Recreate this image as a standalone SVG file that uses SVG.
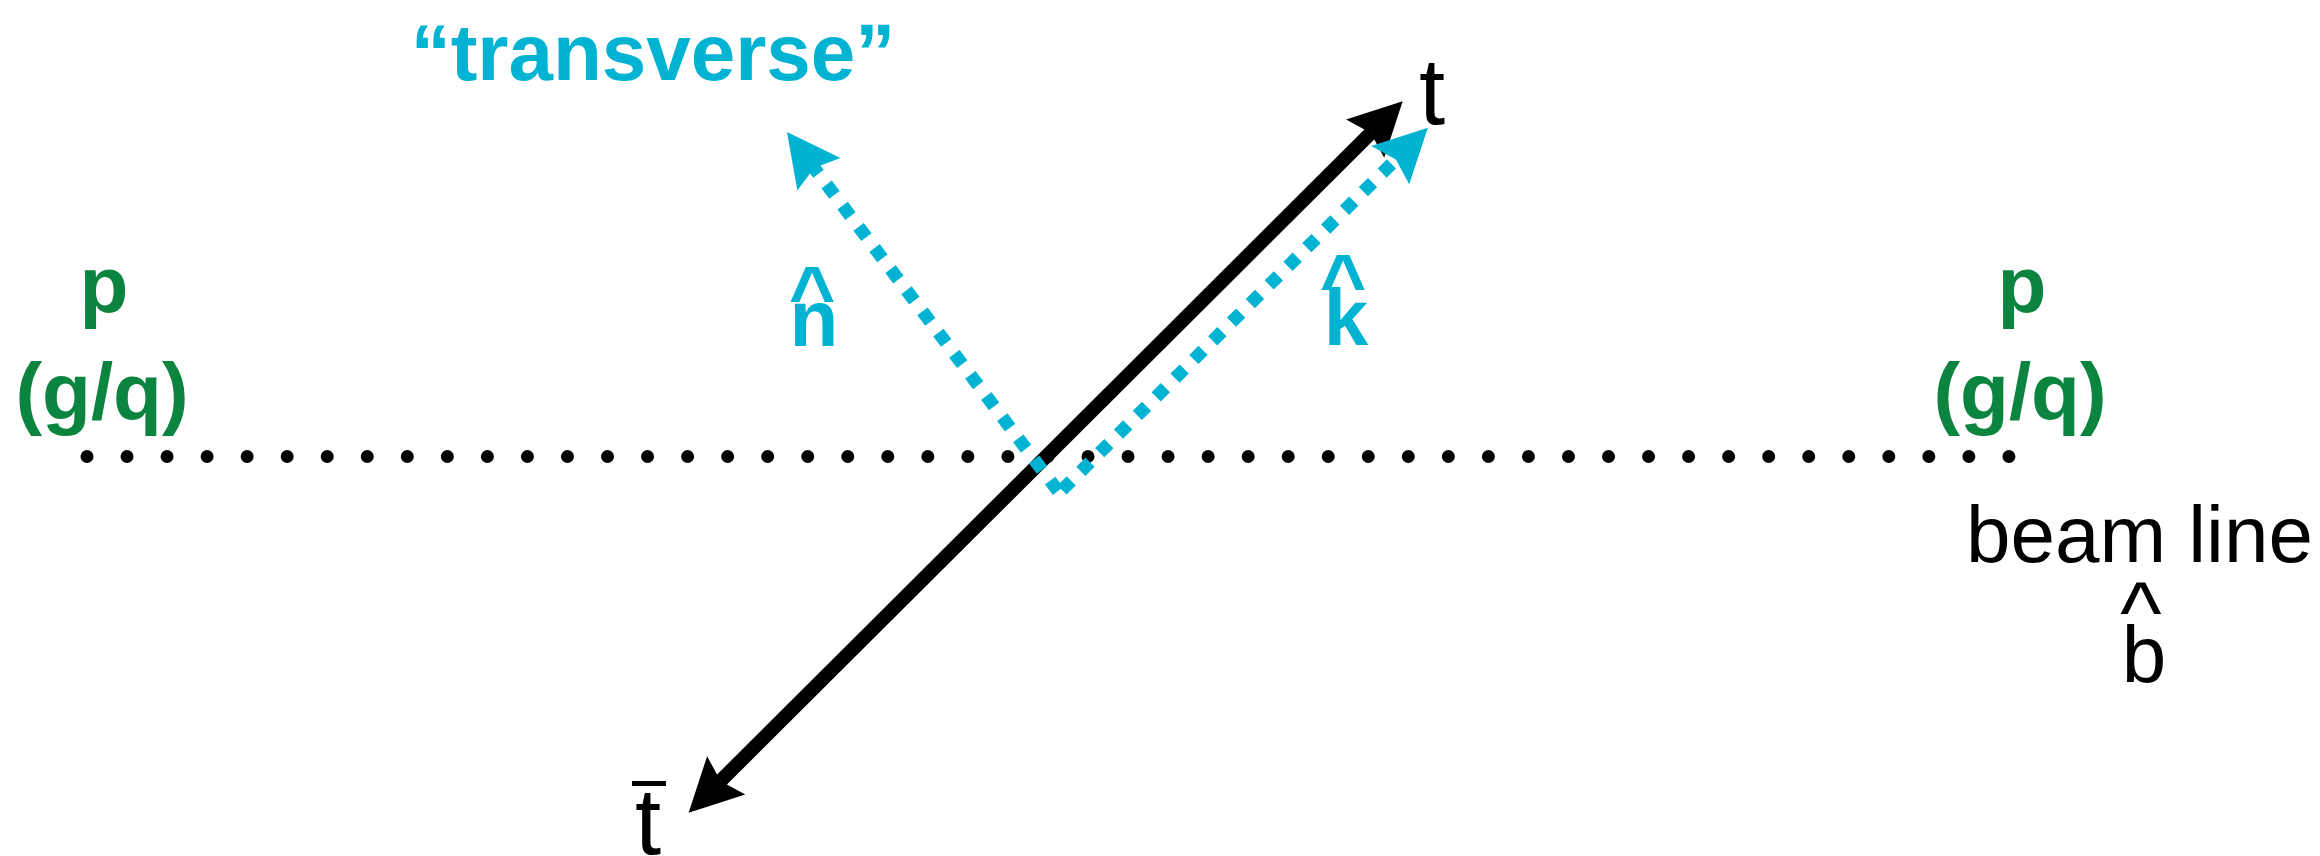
<svg xmlns="http://www.w3.org/2000/svg" width="2320" height="856" viewBox="0 0 2320 856">
<style>
.bold{font-family:"Liberation Sans",Arial,Helvetica,sans-serif;font-weight:bold;font-size:80px}
.reg{font-family:"Liberation Sans",Arial,Helvetica,sans-serif;font-weight:normal;font-size:80px;fill:#000}
.cyan{fill:#00B3D3}
.green{fill:#0A843E}
.mid{text-anchor:middle}
</style>
<defs>
<marker id="headBlack" markerUnits="userSpaceOnUse" markerWidth="60" markerHeight="60" refX="8" refY="0" orient="auto-start-reverse" viewBox="0 -30 60 60" overflow="visible">
<path d="M0,-27 L53,0 L0,27 L8,0 Z" fill="#000"/>
</marker>
<marker id="headCyan" markerUnits="userSpaceOnUse" markerWidth="60" markerHeight="60" refX="8" refY="0" orient="auto" viewBox="0 -30 60 60" overflow="visible">
<path d="M0,-27 L53,0 L0,27 L8,0 Z" fill="#00B3D3"/>
</marker>
</defs>
<rect width="2320" height="856" fill="#fff"/>
<g id="connectors">
<line id="beamline" x1="87" y1="456.5" x2="2009" y2="456.5" stroke="#000" stroke-width="13" stroke-linecap="round" stroke-dasharray="0 40.04"/>
<line id="top-axis" x1="720.5" y1="781" x2="1370.8" y2="133" stroke="#000" stroke-width="14" marker-start="url(#headBlack)" marker-end="url(#headBlack)"/>
<line id="n-axis" x1="1058" y1="491" x2="814.1" y2="167.9" stroke="#00B3D3" stroke-width="13" stroke-dasharray="13 13.5" marker-end="url(#headCyan)"/>
<line id="k-axis" x1="1062" y1="490" x2="1395.9" y2="159.5" stroke="#00B3D3" stroke-width="13" stroke-dasharray="13 13.5" marker-end="url(#headCyan)"/>
</g>
<g id="transverse"><text class="bold cyan mid" x="653" y="80">“transverse”</text></g>
<g id="n-hat"><text class="bold cyan mid" x="812" y="322">^</text><text class="bold cyan mid" x="814" y="346">n</text></g>
<g id="k-hat"><text class="bold cyan mid" x="1343" y="310">^</text><text class="bold cyan mid" x="1346" y="345">k</text></g>
<g id="proton-left"><text class="bold green mid" x="104" y="312">p</text><text class="bold green mid" x="102" y="419">(g/q)</text></g>
<g id="proton-right"><text class="bold green mid" x="2022" y="312">p</text><text class="bold green mid" x="2020" y="419">(g/q)</text></g>
<g id="top"><text class="reg mid" x="1432" y="124" style="font-size:94px">t</text></g>
<g id="antitop"><rect x="632" y="781" width="34" height="5" fill="#000"/><text class="reg mid" x="648" y="854" style="font-size:94px">t</text></g>
<g id="beam-label"><text class="reg" x="1966" y="562">beam line</text><text class="reg mid" x="2141" y="643" style="font-size:88px">^</text><text class="reg mid" x="2144" y="682">b</text></g>
</svg>
